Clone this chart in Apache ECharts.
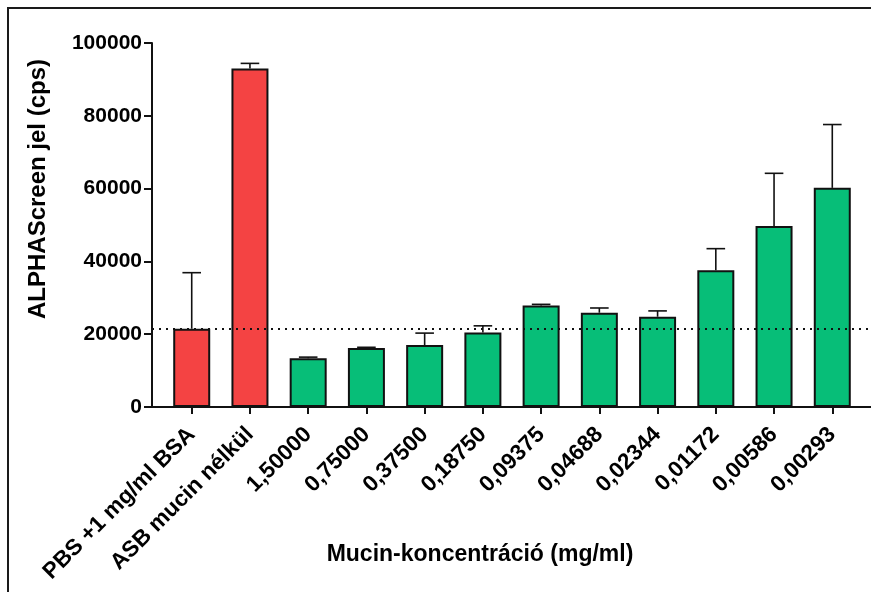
<!DOCTYPE html>
<html>
<head>
<meta charset="utf-8">
<title>ALPHAScreen jel – Mucin-koncentráció</title>
<script src="https://cdn.jsdelivr.net/npm/echarts@6/dist/echarts.min.js"></script>
<style>
  html, body { margin: 0; padding: 0; background: #fff; }
  #wrap { position: relative; width: 871px; height: 592px; overflow: hidden; }
  #chart { position: absolute; left: 0; top: 0; width: 871px; height: 592px; }
  #frame {
    position: absolute; left: 7px; top: 7px; width: 900px; height: 620px;
    border-left: 2px solid #1a1a1a; border-top: 2px solid #1a1a1a;
    pointer-events: none;
  }
</style>
</head>
<body>
<div id="wrap">
  <div id="chart"></div>
  <div id="frame"></div>
</div>
<script>
// Groups along the x axis (controls first, then mucin dilutions in mg/ml)
const categories = [
  'PBS +1 mg/ml BSA', 'ASB mucin nélkül',
  '1,50000', '0,75000', '0,37500', '0,18750', '0,09375',
  '0,04688', '0,02344', '0,01172', '0,00586', '0,00293'
];
// Mean signal (cps) per group
const means = [21500, 93000, 13400, 16200, 17000, 20500, 27900, 25900, 24800, 37600, 49700, 60200];
// Upper error (SD) per group
const errors = [15400, 1400, 300, 200, 3300, 1800, 300, 1300, 1600, 5900, 14500, 17400];
// Which groups are controls
const isControl = [true, true, false, false, false, false, false, false, false, false, false, false];
// Y axis range
const yMin = 0, yMax = 100000, yStep = 20000;

const RED = '#F44343';
const GREEN = '#07BE78';
const INK = '#111';
const FONT = '"Liberation Sans", Arial, sans-serif';

const barData = means.map((v, i) => ({
  value: v,
  itemStyle: { color: isControl[i] ? RED : GREEN }
}));
const errData = means.map((v, i) => [i, v, v + errors[i]]);

const chart = echarts.init(document.getElementById('chart'), null, { renderer: 'canvas' });

chart.setOption({
  backgroundColor: '#fff',
  animation: false,
  grid: [
    { left: 162.6, right: 9.6, top: 43, bottom: 185, containLabel: false },
    { left: 152, right: 0, top: 43, bottom: 185, containLabel: false }
  ],
  xAxis: [
    {
      type: 'category', gridIndex: 0, data: categories,
      axisLine: { show: false },
      axisTick: { show: true, alignWithLabel: true, length: 7, lineStyle: { color: INK, width: 2 } },
      axisLabel: {
        interval: 0, rotate: 45, margin: 24,
        color: '#000', fontFamily: FONT, fontWeight: 'bold', fontSize: 22.5
      },
      splitLine: { show: false }
    },
    {
      type: 'value', gridIndex: 1, min: 0, max: 1,
      axisLine: { show: true, onZero: false, lineStyle: { color: INK, width: 2 } },
      axisTick: { show: false }, axisLabel: { show: false }, splitLine: { show: false }
    }
  ],
  yAxis: [
    {
      type: 'value', gridIndex: 0, min: yMin, max: yMax, interval: yStep, offset: 10.6,
      axisLine: { show: true, lineStyle: { color: INK, width: 2 } },
      axisTick: { show: true, length: 8, lineStyle: { color: INK, width: 2 } },
      axisLabel: {
        margin: 10, color: '#000', fontFamily: FONT, fontWeight: 'bold', fontSize: 21,
        formatter: v => String(v)
      },
      splitLine: { show: false }
    },
    {
      type: 'value', gridIndex: 1, min: yMin, max: yMax, show: false,
      splitLine: { show: false }
    }
  ],
  series: [
    {
      // dotted reference level at the PBS + BSA control mean
      type: 'line', xAxisIndex: 1, yAxisIndex: 1, data: [], z: 1,
      markLine: {
        silent: true, symbol: 'none', animation: false,
        label: { show: false },
        lineStyle: { color: INK, width: 2, type: [2, 5] },
        data: [{ yAxis: means[0] }]
      }
    },
    {
      type: 'custom', xAxisIndex: 0, yAxisIndex: 0, z: 3,
      data: errData,
      renderItem: function (params, api) {
        const i = api.value(0);
        const base = api.coord([i, api.value(1)]);
        const top = api.coord([i, api.value(2)]);
        const half = 9.3;
        const style = { stroke: INK, lineWidth: 1.6 };
        return {
          type: 'group',
          children: [
            { type: 'line', shape: { x1: base[0], y1: base[1], x2: top[0], y2: top[1] }, style: style },
            { type: 'line', shape: { x1: top[0] - half, y1: top[1], x2: top[0] + half, y2: top[1] }, style: style }
          ]
        };
      }
    },
    {
      type: 'bar', xAxisIndex: 0, yAxisIndex: 0, z: 4,
      barWidth: 37,
      data: barData,
      itemStyle: { borderColor: INK, borderWidth: 2 }
    }
  ],
  graphic: [
    {
      type: 'text', x: 38, y: 189, rotation: Math.PI / 2,
      style: {
        text: 'ALPHAScreen jel (cps)', fill: '#000',
        font: 'bold 24px ' + FONT, textAlign: 'center', textVerticalAlign: 'middle'
      }
    },
    {
      type: 'text', x: 480, y: 555,
      style: {
        text: 'Mucin-koncentráció (mg/ml)', fill: '#000',
        font: 'bold 23px ' + FONT, textAlign: 'center', textVerticalAlign: 'middle'
      }
    }
  ]
});
</script>
</body>
</html>
